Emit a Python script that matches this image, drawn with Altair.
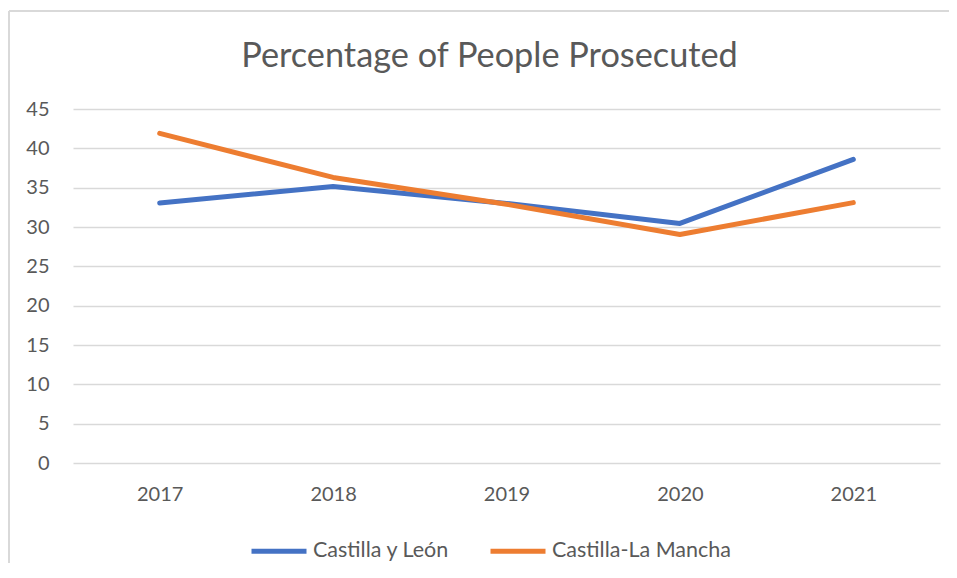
import altair as alt
import pandas as pd

years = ["2017", "2018", "2019", "2020", "2021"]
castilla_leon = [33.05, 35.15, 33.0, 30.45, 38.6]
castilla_mancha = [41.9, 36.3, 32.9, 29.05, 33.1]
series_names = ["Castilla y León", "Castilla-La Mancha"]
series_colors = ["#4472C4", "#ED7D31"]
y_ticks = [0, 5, 10, 15, 20, 25, 30, 35, 40, 45]

rows = []
for name, vals in zip(series_names, [castilla_leon, castilla_mancha]):
    for yr, v in zip(years, vals):
        rows.append({"Year": yr, "Series": name, "Value": v})
df = pd.DataFrame(rows)

FONT = "Lato"
GREY = "#595959"

lines = alt.Chart(df).mark_line(
    strokeWidth=5, strokeCap="round", strokeJoin="round"
).encode(
    x=alt.X("Year:O", sort=years,
            scale=alt.Scale(type="point", padding=0.5),
            axis=alt.Axis(title=None, labelAngle=0, domain=False, ticks=False,
                          labelPadding=21, labelFontSize=20, labelColor=GREY,
                          labelFont=FONT, grid=False)),
    y=alt.Y("Value:Q", scale=alt.Scale(domain=[0, 45], nice=False),
            axis=alt.Axis(title=None, values=y_ticks, domain=False, ticks=False,
                          labelPadding=24, labelFontSize=20, labelColor=GREY,
                          labelFont=FONT, grid=True, gridColor="#d9d9d9",
                          gridWidth=1.3)),
    color=alt.Color("Series:N", sort=series_names,
                    scale=alt.Scale(domain=series_names, range=series_colors),
                    legend=alt.Legend(title=None, orient="none", direction="horizontal",
                                      legendX=176, legendY=412,
                                      symbolType="stroke", symbolSize=3025,
                                      symbolStrokeWidth=5, labelFontSize=21.5,
                                      labelFont=FONT, labelColor=GREY,
                                      labelOffset=4, columnPadding=30,
                                      labelLimit=400, padding=0)),
)

frame_left = alt.Chart(df).mark_rule(color="#d9d9d9", strokeWidth=1.3).encode(
    x=alt.value(-64), y=alt.value(-98), y2=alt.value(460)
)
frame_top = alt.Chart(df).mark_rule(color="#d9d9d9", strokeWidth=1.3).encode(
    x=alt.value(-64), x2=alt.value(880), y=alt.value(-98)
)

chart = alt.layer(frame_left, frame_top, lines).properties(
    width=867, height=354,
    background="white",
    autosize=alt.AutoSizeParams(type="none"),
    padding={"left": 65, "top": 101, "right": 9, "bottom": 100},
    title=alt.TitleParams("Percentage of People Prosecuted", font=FONT, fontSize=34.3,
                          fontWeight="normal", color=GREY, anchor="middle",
                          baseline="alphabetic", offset=-91, dx=-17),
).configure_view(stroke=None)

chart.save("out.html", embed_options={"renderer": "svg", "actions": False})
